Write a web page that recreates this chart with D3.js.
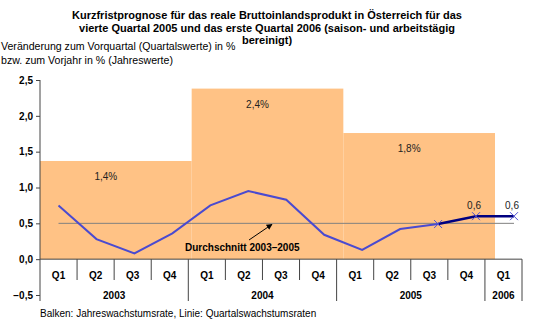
<!DOCTYPE html>
<html>
<head>
<meta charset="utf-8">
<script src="https://cdn.jsdelivr.net/npm/d3@7"></script>
<style>
  body { margin: 0; background: #fff; }
  svg { font-family: Arial, "Liberation Sans", sans-serif; }
</style>
</head>
<body>
<div id="chart"></div>
<script>
// data
const years = ["2003", "2004", "2005"]
const yearBars = [1.37, 2.38, 1.76]
const quarters = ["Q1","Q2","Q3","Q4","Q1","Q2","Q3","Q4","Q1","Q2","Q3","Q4","Q1"]
const quarterYears = ["2003","2003","2003","2003","2004","2004","2004","2004","2005","2005","2005","2005","2006"]
const quarterValues = [0.75, 0.28, 0.08, 0.36, 0.75, 0.95, 0.83, 0.34, 0.13, 0.42, 0.49, null, null]
const forecastValues = [null, null, null, null, null, null, null, null, null, null, 0.49, 0.6, 0.6]
const average = 0.5
const yTicks = [-0.5, 0, 0.5, 1, 1.5, 2, 2.5]

const width = 534, height = 327

const svg = d3.select("#chart")
  .append("svg")
    .attr("width", width)
    .attr("height", height)

const fmt = d3.format(".1f")
const comma = s => s.replace(".", ",")

// scales
const y = d3.scaleLinear().domain([-0.5, 2.5]).range([295, 80])
const xq = d3.scaleBand().domain(d3.range(quarters.length)).range([40, 522])
const xBar = d3.scaleBand().domain(years).range([40, 495])
const xLine = d3.scalePoint().domain(d3.range(quarters.length)).range([58.5, 514])

// title
const title = [
  "Kurzfristprognose für das reale Bruttoinlandsprodukt in Österreich für das",
  "vierte Quartal 2005 und das erste Quartal 2006 (saison- und arbeitstägig",
  "bereinigt)"
]
svg.append("text")
  .attr("text-anchor", "middle")
  .attr("font-size", 11)
  .attr("font-weight", "bold")
  .selectAll("tspan")
  .data(title)
  .join("tspan")
    .attr("x", 267)
    .attr("y", (d, i) => 19 + i * 12.7)
    .text(d => d)

svg.append("text")
  .attr("font-size", 10.6)
  .selectAll("tspan")
  .data(["Veränderung zum Vorquartal (Quartalswerte) in %", "bzw. zum Vorjahr in % (Jahreswerte)"])
  .join("tspan")
    .attr("x", 1)
    .attr("y", (d, i) => 50 + i * 13.5)
    .text(d => d)

// bars
svg.selectAll(".bar")
  .data(years)
  .join("rect")
    .attr("class", "bar")
    .attr("x", d => xBar(d))
    .attr("y", (d, i) => y(yearBars[i]))
    .attr("width", xBar.bandwidth())
    .attr("height", (d, i) => y(0) - y(yearBars[i]))
    .attr("fill", "#FFC285")

svg.selectAll(".barlabel")
  .data(years)
  .join("text")
    .attr("class", "barlabel")
    .attr("x", d => xBar(d) + xBar.bandwidth() / 2 - 10)
    .attr("y", (d, i) => y(yearBars[i]) + 19)
    .attr("text-anchor", "middle")
    .attr("font-size", 10)
    .attr("fill", "#222")
    .text((d, i) => comma(fmt(yearBars[i])) + "%")

// average line
svg.append("line")
  .attr("x1", xLine(0))
  .attr("x2", xLine(quarters.length - 1))
  .attr("y1", y(average))
  .attr("y2", y(average))
  .attr("stroke", "#808080")
  .attr("stroke-width", 1)

// quarterly line
const line = d3.line()
  .defined(d => d != null)
  .x((d, i) => xLine(i))
  .y(d => y(d))

svg.append("path")
  .datum(quarterValues)
  .attr("d", line)
  .attr("fill", "none")
  .attr("stroke", "#4A4AD0")
  .attr("stroke-width", 2)

svg.append("path")
  .datum(forecastValues)
  .attr("d", line)
  .attr("fill", "none")
  .attr("stroke", "#000080")
  .attr("stroke-width", 2.5)

// x markers
const fIdx = forecastValues.map((d, i) => i).filter(i => forecastValues[i] != null)
svg.selectAll(".mark")
  .data(fIdx)
  .join("path")
    .attr("class", "mark")
    .attr("d", i => {
      const cx = xLine(i), cy = y(forecastValues[i])
      return `M${cx-4},${cy-4}L${cx+4},${cy+4}M${cx-4},${cy+4}L${cx+4},${cy-4}`
    })
    .attr("stroke", "#5050D0")
    .attr("stroke-width", 1)

svg.selectAll(".flabel")
  .data(fIdx.slice(1))
  .join("text")
    .attr("class", "flabel")
    .attr("x", i => xLine(i) - 2)
    .attr("y", i => y(forecastValues[i]) - 7)
    .attr("text-anchor", "middle")
    .attr("font-size", 10)
    .attr("fill", "#222")
    .text(i => comma(fmt(forecastValues[i])))

// average annotation
svg.append("defs").append("marker")
  .attr("id", "arr")
  .attr("viewBox", "0 0 10 10")
  .attr("refX", 9).attr("refY", 5)
  .attr("markerWidth", 6).attr("markerHeight", 6)
  .attr("orient", "auto")
  .append("path")
    .attr("d", "M0,0L10,5L0,10z")
    .attr("fill", "#000")

svg.append("line")
  .attr("x1", 249).attr("y1", 240)
  .attr("x2", 272).attr("y2", y(average) + 1)
  .attr("stroke", "#000")
  .attr("stroke-width", 1)
  .attr("marker-end", "url(#arr)")

svg.append("text")
  .attr("x", 185)
  .attr("y", 251)
  .attr("font-size", 10)
  .attr("font-weight", "bold")
  .text("Durchschnitt 2003–2005")

// y axis
const yAxis = svg.append("g")
  .attr("transform", "translate(40,0)")
  .call(d3.axisLeft(y).tickValues(yTicks).tickSize(4).tickSizeOuter(0).tickFormat(d => comma(d3.format(".1f")(d))))
yAxis.select(".domain").attr("stroke", "#444").attr("d", `M0,${y(2.5)}V301`)
yAxis.selectAll(".tick line").attr("stroke", "#444")
yAxis.selectAll("text")
  .attr("font-size", 10)
  .attr("font-weight", "bold")
  .attr("font-family", "Arial, 'Liberation Sans', sans-serif")
  .attr("fill", "#000")

// category axis at zero
svg.append("line")
  .attr("x1", 40).attr("x2", 522)
  .attr("y1", y(0)).attr("y2", y(0))
  .attr("stroke", "#444")

const bounds = d3.range(quarters.length + 1)
svg.selectAll(".qtick")
  .data(bounds.slice(1))
  .join("line")
    .attr("class", "qtick")
    .attr("x1", i => xq(i) !== undefined ? xq(i) : 522)
    .attr("x2", i => xq(i) !== undefined ? xq(i) : 522)
    .attr("y1", y(0))
    .attr("y2", i => (i === quarters.length || quarterYears[i] !== quarterYears[i - 1]) ? 301 : 280)
    .attr("stroke", "#444")

svg.selectAll(".qlabel")
  .data(quarters)
  .join("text")
    .attr("class", "qlabel")
    .attr("x", (d, i) => xq(i) + xq.bandwidth() / 2)
    .attr("y", 279)
    .attr("text-anchor", "middle")
    .attr("font-size", 10)
    .attr("font-weight", "bold")
    .text(d => d)

const yearGroups = d3.groups(quarters.map((d, i) => i), i => quarterYears[i])
svg.selectAll(".ylabel")
  .data(yearGroups)
  .join("text")
    .attr("class", "ylabel")
    .attr("x", d => (xq(d[1][0]) + xq(d[1][d[1].length - 1]) + xq.bandwidth()) / 2)
    .attr("y", 299)
    .attr("text-anchor", "middle")
    .attr("font-size", 10)
    .attr("font-weight", "bold")
    .text(d => d[0])

// footer
svg.append("text")
  .attr("x", 40)
  .attr("y", 317)
  .attr("font-size", 10)
  .text("Balken: Jahreswachstumsrate, Linie: Quartalswachstumsraten")
</script>
</body>
</html>
